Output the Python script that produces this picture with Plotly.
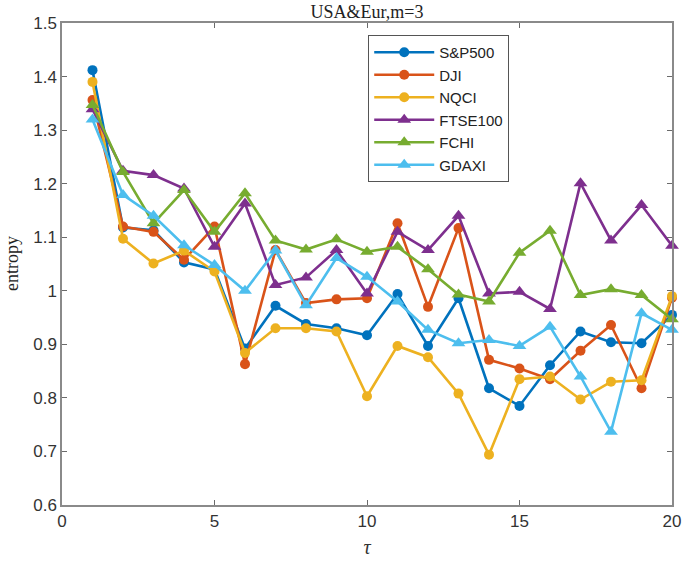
import plotly.graph_objects as go

tau = list(range(1, 21))

sp500 = [1.412, 1.118, 1.113, 1.053, 1.040, 0.892, 0.972, 0.938, 0.930, 0.917,
         0.994, 0.897, 0.986, 0.818, 0.785, 0.861, 0.924, 0.904, 0.902, 0.955]
dji = [1.356, 1.120, 1.110, 1.058, 1.120, 0.863, 1.076, 0.977, 0.984, 0.986,
       1.126, 0.970, 1.117, 0.871, 0.855, 0.835, 0.888, 0.936, 0.818, 0.987]
nqci = [1.390, 1.097, 1.051, 1.075, 1.036, 0.884, 0.930, 0.930, 0.924, 0.803,
        0.897, 0.876, 0.808, 0.694, 0.835, 0.840, 0.797, 0.830, 0.833, 0.990]
ftse100 = [1.339, 1.224, 1.216, 1.191, 1.082, 1.163, 1.011, 1.025, 1.076, 0.995,
           1.110, 1.076, 1.140, 0.995, 0.998, 0.966, 1.201, 1.094, 1.160, 1.084]
fchi = [1.347, 1.222, 1.126, 1.188, 1.110, 1.182, 1.094, 1.077, 1.096, 1.073,
        1.082, 1.040, 0.993, 0.980, 1.071, 1.112, 0.992, 1.003, 0.992, 0.947]
gdaxi = [1.320, 1.179, 1.140, 1.085, 1.048, 1.000, 1.075, 0.973, 1.061, 1.026,
         0.980, 0.927, 0.902, 0.908, 0.897, 0.933, 0.840, 0.737, 0.958, 0.927]

names = ["S&P500", "DJI", "NQCI", "FTSE100", "FCHI", "GDAXI"]
series = [sp500, dji, nqci, ftse100, fchi, gdaxi]
colors = ["#0072BD", "#D95319", "#EDB120", "#7E2F8E", "#77AC30", "#4DBEEE"]
symbols = ["circle", "circle", "circle", "triangle-up", "triangle-up", "triangle-up"]
sizes = [10, 10, 10, 12, 12, 12]

fig = go.Figure()
for n, s, c, sym, sz in zip(names, series, colors, symbols, sizes):
    fig.add_trace(go.Scatter(
        x=tau, y=s, name=n, mode="lines+markers", cliponaxis=False,
        line=dict(color=c, width=2.6),
        marker=dict(color=c, symbol=sym, size=sz),
    ))

axis_common = dict(
    showline=True, linecolor="#8a8a8a", linewidth=1.5, mirror="ticks",
    ticks="inside", ticklen=5, tickcolor="#6a6a6a", tickwidth=1,
    showgrid=False, zeroline=False, automargin=False,
    tickfont=dict(family="Liberation Sans, Arial, sans-serif", size=17, color="#333333"),
)

serif = "Liberation Serif, Times New Roman, serif"

fig.update_layout(
    width=685, height=564,
    margin=dict(l=62, r=13, t=23, b=59),
    paper_bgcolor="white", plot_bgcolor="white",
    title=dict(text="USA&Eur,m=3", x=(62 + 672) / 2 / 685, xanchor="center",
               y=1 - 12 / 564, yanchor="middle",
               font=dict(family=serif, size=18, color="#222222")),
    xaxis=dict(range=[0, 20], tickvals=[0, 5, 10, 15, 20],
               title=dict(text="<i>τ</i>", standoff=10,
                          font=dict(family=serif, size=20, color="#333333")),
               **axis_common),
    yaxis=dict(range=[0.6, 1.5], dtick=0.1, tick0=0.6, **axis_common),
    legend=dict(x=0.502, y=0.975, xanchor="left", yanchor="top",
                bgcolor="white", bordercolor="#555555", borderwidth=1,
                font=dict(family="Liberation Sans, Arial, sans-serif", size=15, color="#222222"),
                itemwidth=60, tracegroupgap=2),
    showlegend=True,
    annotations=[dict(text="entropy", xref="paper", yref="paper",
                      x=(12 - 62) / 610, y=0.5, xanchor="center", yanchor="middle",
                      textangle=-90, showarrow=False,
                      font=dict(family=serif, size=18, color="#222222"))],
)

fig.write_html("out.html", config={"displayModeBar": False},
               post_script="document.body.style.margin='0';document.body.style.overflow='hidden';")
